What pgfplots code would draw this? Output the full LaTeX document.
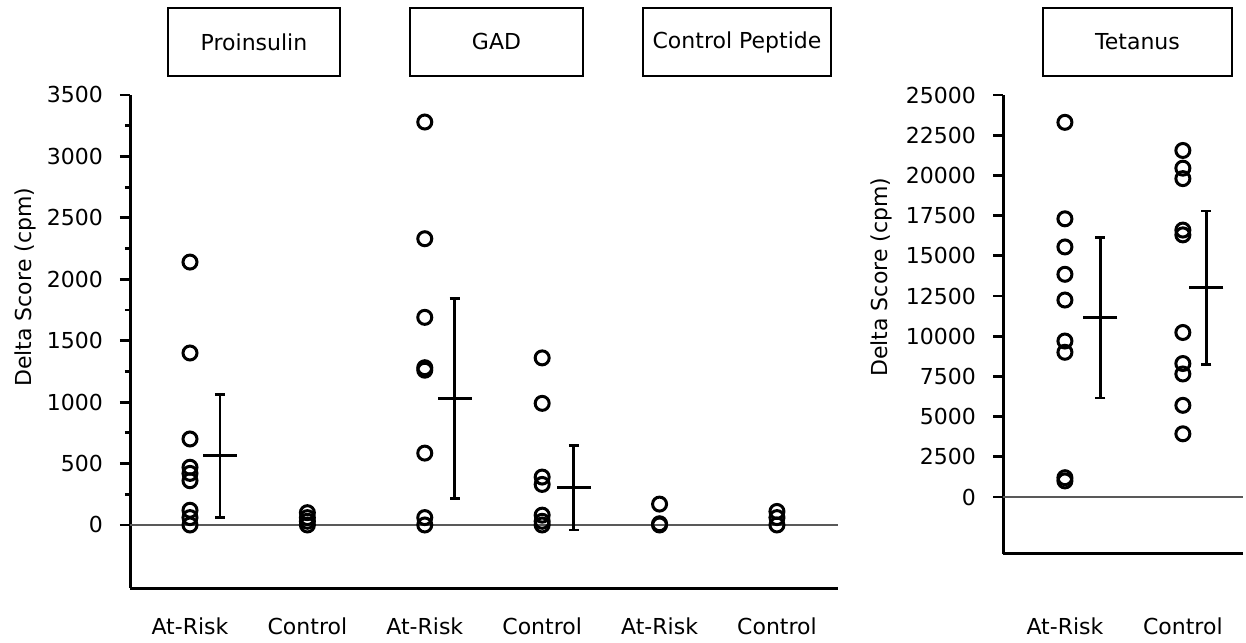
\documentclass[border=0pt]{standalone}
\usepackage{fontspec}
\setmainfont{DejaVu Sans}
\usepackage{pgfplots}
\pgfplotsset{compat=1.18}
\newcommand{\lbl}{\fontsize{11}{13}\selectfont}
\pgfplotsset{
  common/.style={
    scale only axis,
    clip=false,
    axis x line*=bottom,
    axis y line*=left,
    x axis line style={line width=1.5pt, black},
    y axis line style={line width=1.5pt, black},
    tick align=outside,
    major tick length=5pt,
    minor tick length=2.5pt,
    ytick style={line width=1.4pt, black},
    minor tick style={line width=1.4pt, black},
    xtick style={draw=none},
    tick label style={font=\lbl},
    scaled y ticks=false,
    /pgf/number format/assume math mode=true,
    /pgf/number format/1000 sep={},
    yticklabel style={xshift=-5pt},
  },
  pts/.style={only marks, black, mark=o, mark size=3.5pt, mark options={line width=1.5pt}},
  meanbar/.style={only marks, black, mark=-, mark size=8.5pt, mark options={line width=1.4pt},
    error bars/.cd, y dir=both, y explicit,
    error bar style={line width=1.4pt, black},
    error mark options={rotate=90, mark size=2.5pt, line width=1.4pt, black}},
  zeroline/.style={no marks, black!65, line width=0.7pt, forget plot},
}
\begin{document}
\begin{tikzpicture}
\useasboundingbox (0pt,0pt) rectangle (623pt,321pt);
% ---------- left panel ----------
\begin{axis}[common,
  at={(65pt,27pt)}, anchor=south west,
  width=354pt, height=246.5pt,
  xmin=-0.511, xmax=5.52,
  ymin=-513, ymax=3500,
  ytick={0,500,...,3500},
  minor ytick={250,750,...,3250},
  xtick={0,1,2,3,4,5},
  xticklabels={At-Risk,Control,At-Risk,Control,At-Risk,Control},
  xticklabel style={anchor=base, yshift=-18.3pt},
]
\addplot[zeroline] coordinates {(-0.511,0) (5.52,0)};
% Proinsulin At-Risk
\addplot[pts] coordinates {(0,2140) (0,1400) (0,700) (0,470) (0,420) (0,360) (0,120) (0,60) (0,0)};
% Proinsulin Control
\addplot[pts] coordinates {(1,100) (1,60) (1,30) (1,0)};
% GAD At-Risk
\addplot[pts] coordinates {(2,3280) (2,2330) (2,1690) (2,1280) (2,1260) (2,585) (2,60) (2,0)};
% GAD Control
\addplot[pts] coordinates {(3,1360) (3,990) (3,390) (3,330) (3,80) (3,30) (3,0)};
% Control peptide At-Risk
\addplot[pts] coordinates {(4,170) (4,10) (4,0)};
% Control peptide Control
\addplot[pts] coordinates {(5,110) (5,60) (5,0)};
% means +- SD
\addplot[meanbar] coordinates {(0.255,563) +- (0,500) (2.255,1028) +- (0,815) (3.27,304) +- (0,345)};
\node[rotate=90, font=\lbl, anchor=center] at (axis description cs:-0.148,0.61) {Delta Score (cpm)};
\end{axis}
% ---------- right panel ----------
\begin{axis}[common,
  at={(501.5pt,44pt)}, anchor=south west,
  width=120pt, height=229.5pt,
  xmin=-0.525, xmax=1.51,
  ymin=-3545, ymax=25000,
  ytick={0,2500,...,25000},
  xtick={0,1},
  xticklabels={At-Risk,Control},
  xticklabel style={anchor=base, yshift=-35.3pt},
]
\addplot[zeroline] coordinates {(-0.525,0) (1.51,0)};
\addplot[pts] coordinates {(0,23300) (0,17300) (0,15550) (0,13850) (0,12250) (0,9700) (0,9000) (0,1200) (0,1000)};
\addplot[pts] coordinates {(1,21550) (1,20450) (1,19800) (1,16600) (1,16300) (1,10230) (1,8300) (1,7650) (1,5700) (1,3930)};
\addplot[meanbar] coordinates {(0.3,11155) +- (0,5000) (1.2,13015) +- (0,4770)};
\node[rotate=90, font=\lbl, anchor=center] at (axis description cs:-0.508,0.603) {Delta Score (cpm)};
\end{axis}
% ---------- panel titles ----------
\tikzset{tbox/.style={draw, line width=1.1pt, minimum height=34pt, font=\lbl, inner sep=0pt}}
\node[tbox, minimum width=86pt] at (127pt,300pt) {Proinsulin};
\node[tbox, minimum width=86.5pt] at (248.25pt,300pt) {GAD};
\node[tbox, minimum width=94pt] at (368.5pt,300pt) {Control Peptide};
\node[tbox, minimum width=94.5pt] at (568.75pt,300pt) {Tetanus};
\end{tikzpicture}
\end{document}
